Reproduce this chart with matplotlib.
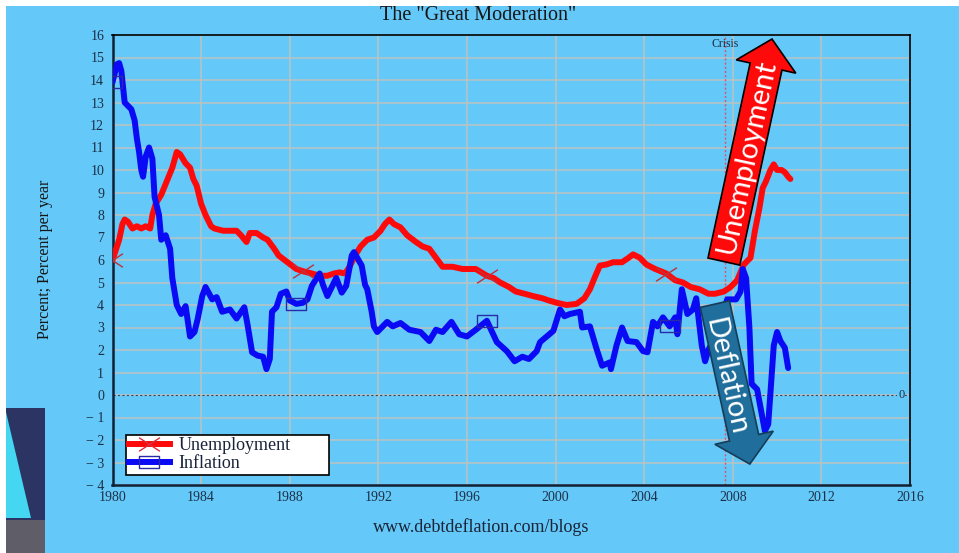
import numpy as np
import matplotlib
matplotlib.use("Agg")
import matplotlib.pyplot as plt
from matplotlib.patches import Rectangle, Polygon, FancyArrow
from matplotlib.lines import Line2D
from matplotlib.path import Path

# ---------------- data ----------------
unemp_year = [1980.0, 1980.1, 1980.3, 1980.45, 1980.55, 1980.7, 1980.9, 1981.1, 1981.3, 1981.5,
              1981.7, 1981.8, 1981.95, 1982.2, 1982.45, 1982.7, 1982.9, 1983.05, 1983.3, 1983.5,
              1983.65, 1983.8, 1984.0, 1984.2, 1984.45, 1984.6, 1985.0, 1985.3, 1985.6, 1985.8,
              1986.05, 1986.2, 1986.5, 1986.8, 1987.0, 1987.3, 1987.5, 1987.9, 1988.3, 1988.6,
              1989.0, 1989.35, 1989.7, 1990.0, 1990.25, 1990.5, 1990.7, 1990.95, 1991.2, 1991.5,
              1991.8, 1992.1, 1992.3, 1992.5, 1992.7, 1993.0, 1993.3, 1993.7, 1994.0, 1994.3,
              1994.6, 1994.9, 1995.35, 1995.8, 1996.1, 1996.4, 1996.9, 1997.2, 1997.5, 1997.9,
              1998.2, 1998.6, 1998.97, 1999.4, 1999.7, 2000.05, 2000.5, 2000.95, 2001.3, 2001.55,
              2001.8, 2002.0, 2002.3, 2002.6, 2003.0, 2003.3, 2003.5, 2003.8, 2004.1, 2004.5,
              2005.0, 2005.4, 2005.75, 2006.1, 2006.5, 2006.9, 2007.2, 2007.6, 2007.9, 2008.2,
              2008.5, 2008.8, 2009.0, 2009.2, 2009.35, 2009.5, 2009.7, 2009.85, 2010.0, 2010.2,
              2010.35, 2010.5, 2010.6]
unemp_val = [6.0, 6.3, 6.9, 7.6, 7.8, 7.7, 7.4, 7.5, 7.4, 7.5,
             7.4, 8.0, 8.5, 8.9, 9.5, 10.1, 10.8, 10.7, 10.3, 10.1,
             9.6, 9.3, 8.5, 8.0, 7.5, 7.4, 7.3, 7.3, 7.3, 7.1,
             6.8, 7.2, 7.2, 7.0, 6.9, 6.5, 6.2, 5.9, 5.6, 5.5,
             5.4, 5.3, 5.3, 5.4, 5.45, 5.4, 5.7, 6.2, 6.6, 6.9,
             7.0, 7.3, 7.6, 7.8, 7.6, 7.45, 7.1, 6.8, 6.6, 6.5,
             6.1, 5.7, 5.7, 5.6, 5.6, 5.6, 5.3, 5.2, 5.0, 4.8,
             4.6, 4.5, 4.4, 4.3, 4.2, 4.1, 4.0, 4.05, 4.3, 4.7,
             5.3, 5.75, 5.8, 5.9, 5.9, 6.1, 6.25, 6.1, 5.8, 5.6,
             5.4, 5.1, 5.0, 4.8, 4.7, 4.5, 4.5, 4.6, 4.8, 5.1,
             5.8, 6.1, 7.3, 8.3, 9.2, 9.5, 10.0, 10.25, 10.0, 10.0,
             9.9, 9.7, 9.6]

infl_year = [1980.0, 1980.1, 1980.2, 1980.3, 1980.4, 1980.55, 1980.85, 1981.0, 1981.1, 1981.2,
             1981.3, 1981.38, 1981.5, 1981.65, 1981.8, 1981.9, 1982.1, 1982.2, 1982.4, 1982.6,
             1982.7, 1982.9, 1983.1, 1983.3, 1983.5, 1983.7, 1983.85, 1984.05, 1984.2, 1984.5,
             1984.7, 1984.95, 1985.3, 1985.6, 1985.95, 1986.1, 1986.3, 1986.55, 1986.8, 1986.95,
             1987.1, 1987.2, 1987.4, 1987.6, 1987.85, 1988.0, 1988.3, 1988.6, 1988.8, 1989.0,
             1989.35, 1989.5, 1989.7, 1990.1, 1990.35, 1990.55, 1990.8, 1990.9, 1991.25, 1991.4,
             1991.5, 1991.7, 1991.8, 1991.95, 1992.4, 1992.65, 1993.0, 1993.4, 1993.9, 1994.3,
             1994.6, 1994.9, 1995.3, 1995.65, 1996.0, 1996.4, 1996.9, 1997.35, 1997.8, 1998.15,
             1998.5, 1998.8, 1999.15, 1999.3, 1999.6, 1999.9, 2000.2, 2000.4, 2000.65, 2001.1,
             2001.2, 2001.55, 2001.85, 2002.1, 2002.45, 2002.5, 2002.75, 2003.0, 2003.25, 2003.65,
             2003.95, 2004.15, 2004.4, 2004.6, 2004.85, 2005.15, 2005.4, 2005.5, 2005.7, 2005.95,
             2006.2, 2006.35, 2006.6, 2006.75, 2006.9, 2007.2, 2007.5, 2007.75, 2008.15, 2008.35,
             2008.45, 2008.6, 2008.75, 2008.85, 2009.1, 2009.3, 2009.45, 2009.6, 2009.75, 2009.85,
             2010.0, 2010.15, 2010.35, 2010.5]
infl_val = [13.9, 14.3, 14.7, 14.75, 14.4, 13.0, 12.7, 12.2, 11.4, 10.8,
            10.0, 9.7, 10.6, 11.0, 10.5, 8.8, 8.0, 6.9, 7.1, 6.5,
            5.2, 4.0, 3.6, 3.95, 2.6, 2.8, 3.4, 4.4, 4.8, 4.25,
            4.35, 3.7, 3.8, 3.4, 3.9, 3.1, 1.9, 1.75, 1.7, 1.15,
            1.6, 3.7, 3.9, 4.5, 4.6, 4.2, 4.05, 4.1, 4.25, 4.85,
            5.4, 4.9, 4.4, 5.2, 4.55, 4.85, 6.2, 6.35, 5.75, 4.9,
            4.7, 3.7, 3.05, 2.8, 3.25, 3.05, 3.2, 2.9, 2.8, 2.4,
            2.9, 2.8, 3.25, 2.7, 2.6, 2.9, 3.3, 2.35, 1.95, 1.5,
            1.7, 1.6, 1.95, 2.35, 2.6, 2.85, 3.8, 3.5, 3.6, 3.7,
            3.0, 3.05, 2.05, 1.3, 1.45, 1.15, 2.2, 3.0, 2.4, 2.35,
            1.95, 1.9, 3.25, 3.05, 3.45, 3.05, 3.45, 2.7, 4.7, 3.6,
            3.8, 4.3, 2.2, 1.5, 2.0, 2.6, 3.5, 4.25, 4.25, 4.6,
            5.6, 5.2, 3.0, 0.5, 0.25, -0.8, -1.6, -1.3, 0.8, 2.2,
            2.8, 2.4, 2.1, 1.2]

unemp_marker_years = [1980.0, 1988.45, 1996.8, 2005.1]
infl_marker_years = [1980.0, 1988.3, 1996.7, 2005.05]

x_ticks = [1980, 1984, 1988, 1992, 1996, 2000, 2004, 2008, 2012, 2016]
y_ticks = list(range(-4, 17))
crisis_year = 2007.64

title = 'The "Great Moderation"'
ylabel = "Percent; Percent per year"
source = "www.debtdeflation.com/blogs"
legend_labels = ["Unemployment", "Inflation"]

# ---------------- styling ----------------
BG = "#64C8F8"
SERIF = ["Liberation Serif", "DejaVu Serif"]
TXT = "#1c3048"
W, H = 959, 553

fig = plt.figure(figsize=(W / 100, H / 100), dpi=100)
fig.patch.set_facecolor("white")
fig.add_artist(Rectangle((6 / W, 0), 1, (H - 6) / H, transform=fig.transFigure,
                         facecolor=BG, edgecolor="none", zorder=-10))
# dark screen artefact in the lower-left corner
fig.add_artist(Rectangle((6 / W, 0), 39 / W, (H - 408) / H, transform=fig.transFigure,
                         facecolor="#2b3463", edgecolor="none", zorder=-9))
fig.add_artist(Rectangle((6 / W, 0), 39 / W, (H - 520) / H, transform=fig.transFigure,
                         facecolor="#5f5d68", edgecolor="none", zorder=-9))
fig.add_artist(Polygon([(6 / W, 1 - 412 / H), (31 / W, 1 - 518 / H), (6 / W, 1 - 518 / H)],
                       closed=True, transform=fig.transFigure, facecolor="#45d6f2",
                       edgecolor="none", zorder=-8))

ax = fig.add_axes([112.5 / W, (H - 485) / H, (910 - 112.5) / W, (485 - 35) / H])
ax.set_facecolor(BG)
ax.set_xlim(1980, 2016)
ax.set_ylim(-4, 16)

ax.set_xticks(x_ticks)
ax.set_yticks(y_ticks)
ax.set_xticklabels([str(t) for t in x_ticks])
ax.set_yticklabels([("\u2212 %d" % -t) if t < 0 else str(t) for t in y_ticks])
for lab in ax.get_xticklabels() + ax.get_yticklabels():
    lab.set_fontfamily(SERIF)
    lab.set_fontsize(10)
    lab.set_color(TXT)
ax.tick_params(axis="both", length=0)
ax.tick_params(axis="y", pad=6)
ax.tick_params(axis="x", pad=4)

ax.grid(True, color="#bcc4c2", lw=1.1, zorder=0)
ax.set_axisbelow(True)
ax.axhline(0, color="#2a4a6a", lw=0.8, ls=(0, (2, 2)), zorder=1)
ax.text(2015.6, 0, "0", ha="center", va="center", fontsize=9, color=TXT,
        family=SERIF, zorder=2, bbox=dict(facecolor=BG, edgecolor="none", pad=0.5))

for s in ["left", "bottom"]:
    ax.spines[s].set_color("#0d2035")
    ax.spines[s].set_linewidth(1.8)
for s in ["top", "right"]:
    ax.spines[s].set_color("black")
    ax.spines[s].set_linewidth(1.2)

# crisis marker
ax.axvline(crisis_year, color="#e0506a", ls=(0, (1.5, 1.5)), lw=1.0, zorder=1)
ax.text(crisis_year, 15.6, "Crisis", ha="center", va="center", fontsize=8.5,
        color=TXT, family=SERIF, zorder=2)

# custom wide markers
rect_marker = Path([(-1, -0.62), (1, -0.62), (1, 0.62), (-1, 0.62), (-1, -0.62)],
                   [Path.MOVETO, Path.LINETO, Path.LINETO, Path.LINETO, Path.CLOSEPOLY])
x_marker = Path([(-1, -0.65), (1, 0.65), (-1, 0.65), (1, -0.65)],
                [Path.MOVETO, Path.LINETO, Path.MOVETO, Path.LINETO])

uy = np.array(unemp_year)
iy = np.array(infl_year)
u_idx = [int(np.argmin(np.abs(uy - t))) for t in unemp_marker_years]
i_idx = [int(np.argmin(np.abs(iy - t))) for t in infl_marker_years]

ax.plot(unemp_year, unemp_val, color="#ff0a0a", lw=4.3, solid_joinstyle="round",
        solid_capstyle="round", zorder=3)
ax.plot(infl_year, infl_val, color="#0a0af5", lw=4.3, solid_joinstyle="round",
        solid_capstyle="round", zorder=4)
ax.plot(uy[u_idx], np.array(unemp_val)[u_idx], ls="none", marker=x_marker, ms=15,
        mec="#c0303a", mew=1.0, zorder=5)
ax.plot(iy[i_idx], np.array(infl_val)[i_idx], ls="none", marker=rect_marker, ms=15,
        mec="#2a2aa8", mfc="none", mew=1.0, zorder=5)

# legend (box spans a fixed width, as in the reference)
h1 = Line2D([], [], color="#ff0a0a", lw=4.3, marker=x_marker, ms=15, mec="#d83040", mew=1.0)
h2 = Line2D([], [], color="#0a0af5", lw=4.3, marker=rect_marker, ms=15, mec="#2a2aa8",
            mfc="none", mew=1.0)
leg_x0 = (126 - 112.5) / 797.5
leg_w = (329 - 126) / 797.5
leg = ax.legend([h1, h2], legend_labels, loc="lower left",
                bbox_to_anchor=(leg_x0, 0.022, leg_w, 0.1), mode="expand",
                borderaxespad=0, fancybox=False, framealpha=1, facecolor="white",
                edgecolor="black", prop={"family": SERIF, "size": 13}, borderpad=0.15,
                labelspacing=0.05, handlelength=2.3, handletextpad=0.45)
leg.get_frame().set_linewidth(1.2)
for t in leg.get_texts():
    t.set_color("#1a2438")
leg.set_zorder(6)

# annotation arrows
ax.add_patch(FancyArrow(2007.60, 5.93, 2.17, 9.89, width=1.47, head_width=2.75,
                        head_length=1.25, length_includes_head=True, facecolor="#ff0a0a",
                        edgecolor="black", lw=1.2, zorder=7))
ax.text(2008.63, 10.6, "Unemployment", rotation=77.8, rotation_mode="anchor",
        ha="center", va="center", color="white", fontsize=21, family="Lato", zorder=8)

ax.add_patch(FancyArrow(2007.19, 4.04, 1.58, -7.11, width=1.35, head_width=2.7,
                        head_length=1.2, length_includes_head=True, facecolor="#1f6e9c",
                        edgecolor="#163c58", lw=1.2, zorder=7))
ax.text(2007.69, 0.8, "Deflation", rotation=-77.7, rotation_mode="anchor",
        ha="center", va="center", color="white", fontsize=21, family="Lato", zorder=8)

# texts around the axes
fig.text(478 / W, 1 - 16 / H, title, ha="center", va="center", fontsize=14.5,
         family=SERIF, color="#161616")
fig.text(45 / W, 1 - 259 / H, ylabel, ha="center", va="center", rotation=90,
         fontsize=11.5, family=SERIF, color="#161616")
fig.text(481 / W, 1 - 527 / H, source, ha="center", va="center", fontsize=13,
         family=SERIF, color="#1a2438")

fig.savefig("out.png", dpi=100, facecolor=fig.get_facecolor())
